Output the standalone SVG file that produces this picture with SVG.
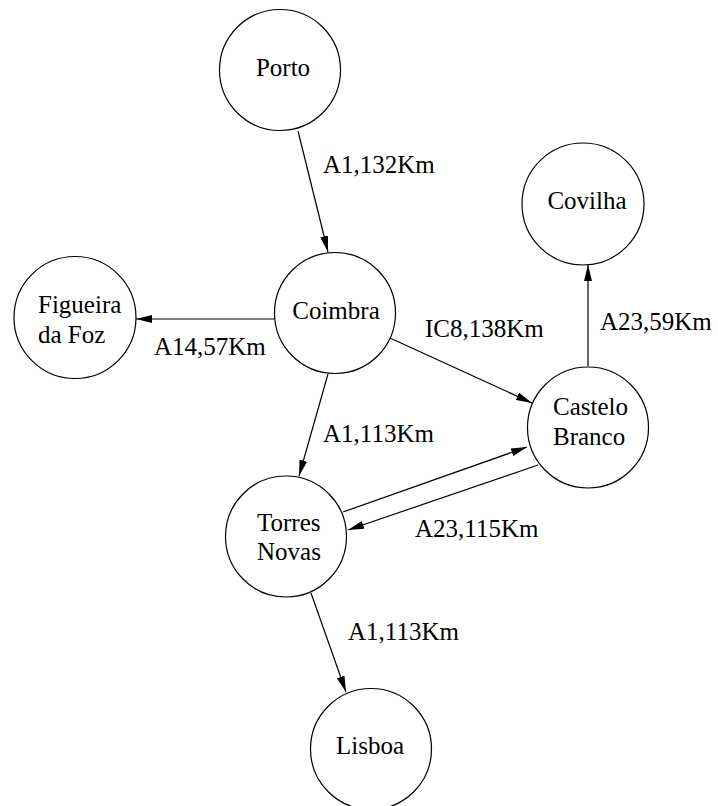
<svg xmlns="http://www.w3.org/2000/svg" width="718" height="806" viewBox="0 0 718 806">
<style>
.node circle{fill:#fff;stroke:#000;stroke-width:1.2}
text{font-family:"Liberation Serif","Times New Roman",serif;font-size:25px;fill:#000}
.c{text-anchor:middle}
#edges line{stroke:#000;stroke-width:1.2;marker-end:url(#arrow)}
</style>
<defs>
<marker id="arrow" viewBox="0 0 16 8" refX="16" refY="4" markerWidth="16" markerHeight="8" markerUnits="userSpaceOnUse" orient="auto">
<path d="M0,0 L16,4 L0,8 z" fill="#000"/>
</marker>
</defs>
<rect width="718" height="806" fill="#fff"/>
<g id="edges">
<line x1="298" y1="131" x2="328" y2="252"/>
<line x1="274" y1="319" x2="136" y2="319"/>
<line x1="390.5" y1="338.3" x2="532" y2="403"/>
<line x1="328" y1="374" x2="299" y2="476"/>
<line x1="588" y1="366" x2="588" y2="265"/>
<line x1="343" y1="512" x2="527" y2="447"/>
<line x1="538" y1="465" x2="348" y2="530"/>
<line x1="311" y1="593" x2="346" y2="692"/>
<text x="323" y="173">A1,132Km</text>
<text x="154" y="355">A14,57Km</text>
<text x="425" y="337">IC8,138Km</text>
<text x="600" y="330">A23,59Km</text>
<text x="323" y="442">A1,113Km</text>
<text x="415" y="537">A23,115Km</text>
<text x="348" y="640">A1,113Km</text>
</g>
<g id="porto" class="node"><circle cx="280" cy="70" r="60.5"/><text class="c" x="283" y="76">Porto</text></g>
<g id="coimbra" class="node"><circle cx="335" cy="313" r="60.5"/><text class="c" x="336" y="319">Coimbra</text></g>
<g id="figueira" class="node"><circle cx="75" cy="317.5" r="61"/><text x="38" y="313">Figueira</text><text x="38" y="343">da Foz</text></g>
<g id="covilha" class="node"><circle cx="583" cy="204" r="61"/><text class="c" x="587" y="209">Covilha</text></g>
<g id="castelo" class="node"><circle cx="588" cy="427.5" r="60.5"/><text x="553" y="415">Castelo</text><text x="553" y="445">Branco</text></g>
<g id="torres" class="node"><circle cx="286" cy="536.5" r="60.5"/><text x="257" y="531">Torres</text><text x="257" y="560">Novas</text></g>
<g id="lisboa" class="node"><circle cx="371" cy="749" r="60.5"/><text class="c" x="370" y="754">Lisboa</text></g>
</svg>
